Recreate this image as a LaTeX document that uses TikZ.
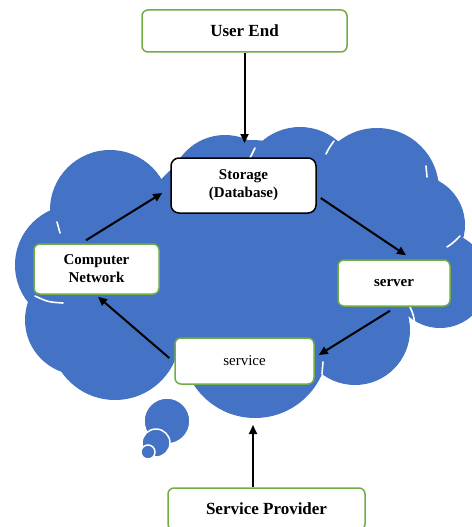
\documentclass[tikz,border=0pt]{standalone}
\usepackage{fontspec}
\setmainfont{Liberation Serif}
\usetikzlibrary{arrows.meta,calc}
\definecolor{cloudblue}{HTML}{4472C4}
\definecolor{boxgreen}{HTML}{70AD47}
\tikzset{
  gbox/.style={draw=boxgreen,line width=1.5pt,rounded corners=6pt,fill=white,align=center,inner sep=0pt},
  kbox/.style={draw=black,line width=1.5pt,rounded corners=8pt,fill=white,align=center,inner sep=0pt},
  bigtxt/.style={font=\fontsize{17}{20}\selectfont\bfseries},
  midtxt/.style={font=\fontsize{15}{18}\selectfont\bfseries},
  plaintxt/.style={font=\fontsize{15}{18}\selectfont},
  arr/.style={draw=black,line width=2pt,-{Triangle[length=9pt,width=8pt]}},
  lobe/.style={fill=cloudblue},
  bubble/.style={fill=cloudblue,draw=white,line width=1.5pt},
  seam/.style={draw=white,line width=1.6pt,line cap=round}
}
\begin{document}
\begin{tikzpicture}[x=1pt,y=-1pt]
\useasboundingbox (0,0) rectangle (471,527);
% cloud lobes (one path, so no seams)
\fill[lobe] (110,210) circle (60) (225,190) circle (55) (300,185) circle (58)
  (377,190) circle (62) (415,225) circle (50) (440,280) circle (48)
  (355,330) circle (55) (255,345) circle (73) (115,335) circle (65)
  (75,265) circle (60) (80,320) circle (55) (250,260) circle (120)
  (360,260) circle (55) (150,270) circle (70);
% white seams of the cloud outline
\draw[seam] (326,154) .. controls (329,148) .. (334,141);
\draw[seam] (250,158) .. controls (252,153) .. (255,148);
\draw[seam] (426,166) -- (427,177);
\draw[seam] (447,247) .. controls (453,243) .. (460,236);
\draw[seam] (410,307) .. controls (414,316) .. (415,329);
\draw[seam] (57,222) .. controls (59,227) .. (60,233);
\draw[seam] (35,296) .. controls (48,302) .. (63,303);
\draw[seam] (188,387) .. controls (191,391) .. (193,397);
\draw[seam] (323,362) .. controls (323,368) .. (322,374);
% thought bubbles
\draw[bubble] (167,421) circle (23);
\draw[bubble] (156,443) circle (14);
\draw[bubble] (148,452) circle (7);
% nodes
\node[gbox,bigtxt,minimum width=205pt,minimum height=42pt] (ue) at (244.5,31) {User End};
\node[kbox,midtxt,minimum width=145pt,minimum height=55pt] (st) at (243.5,185.5) {Storage\\(Database)};
\node[gbox,midtxt,minimum width=125pt,minimum height=50pt] (cn) at (96.5,269) {Computer\\Network};
\node[gbox,midtxt,minimum width=112pt,minimum height=46pt] (sv) at (394,283) {server};
\node[gbox,plaintxt,minimum width=139pt,minimum height=46pt] (svc) at (244.5,361) {service};
\node[gbox,bigtxt,minimum width=197pt,minimum height=42pt] (sp) at (266.5,509) {Service Provider};
% free ends
\coordinate (uetip) at (244.5,143);
\coordinate (sptip) at (253,425);
% connectors
\draw[arr] (ue.south) -- (uetip);
\draw[arr] ($(sp.north)+(-13.5,0)$) -- (sptip);
\draw[arr] ($(st.east)+(4,12.5)$) -- ($(sv.north)+(12,-4)$);
\draw[arr] ($(sv.south)+(-4,4)$) -- ($(svc.east)+(4,-6)$);
\draw[arr] ($(svc.west)+(-5,-3)$) -- ($(cn.south)+(1.5,2)$);
\draw[arr] ($(cn.north)+(-10.5,-3)$) -- ($(st.west)+(-8,7.5)$);
\end{tikzpicture}
\end{document}
